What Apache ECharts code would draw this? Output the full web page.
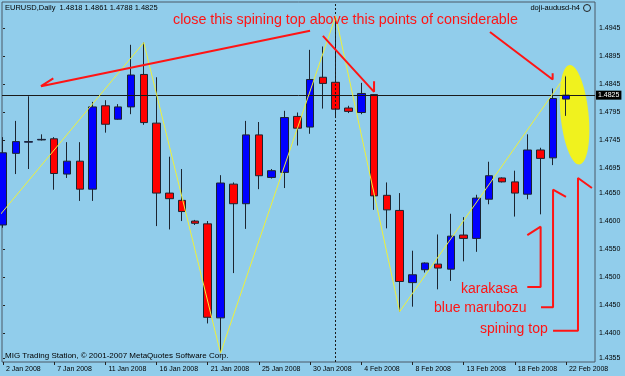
<!DOCTYPE html>
<html>
<head>
<meta charset="utf-8">
<script src="https://cdn.jsdelivr.net/npm/echarts@6/dist/echarts.min.js"></script>
<style>
html, body { margin: 0; padding: 0; background: #91cdeb; }
#chart { width: 625px; height: 376px; }
</style>
</head>
<body>
<div id="chart"></div>
<script>
// EURUSD daily, bar 0 = 2 Jan 2008 ... bar 44 = 22 Feb 2008 (MT4 feed incl. sunday bars)
const opens  = [1.4593, 1.4721, 1.4741, 1.4745, 1.4747, 1.4684, 1.4707, 1.4657, 1.4806, 1.4782,
                1.4804, 1.4862, 1.4775, 1.4650, 1.4637, 1.4600, 1.4595, 1.4427, 1.4666, 1.4631,
                1.4754, 1.4678, 1.4687, 1.4787, 1.4768, 1.4857, 1.4848, 1.4802, 1.4794, 1.4826,
                1.4646, 1.4619, 1.4490, 1.4513, 1.4523, 1.4514, 1.4575, 1.4569, 1.4639, 1.4677,
                1.4670, 1.4648, 1.4727, 1.4713, 1.4818];
const closes = [1.4722, 1.4742, 1.4742, 1.4746, 1.4685, 1.4707, 1.4657, 1.4804, 1.4773, 1.4804,
                1.4861, 1.4776, 1.4650, 1.4640, 1.4617, 1.4596, 1.4428, 1.4668, 1.4631, 1.4754,
                1.4681, 1.4690, 1.4785, 1.4766, 1.4853, 1.4846, 1.4800, 1.4796, 1.4828, 1.4645,
                1.4620, 1.4492, 1.4504, 1.4525, 1.4516, 1.4573, 1.4569, 1.4641, 1.4681, 1.4670,
                1.4650, 1.4727, 1.4712, 1.4819, 1.4825];
const lows   = [1.4588, 1.4684, 1.4693, 1.4744, 1.4656, 1.4677, 1.4636, 1.4636, 1.4758, 1.4781,
                1.4791, 1.4772, 1.4591, 1.4585, 1.4600, 1.4593, 1.4417, 1.4364, 1.4507, 1.4586,
                1.4657, 1.4676, 1.4659, 1.4735, 1.4756, 1.4801, 1.4784, 1.4793, 1.4791, 1.4620,
                1.4587, 1.4438, 1.4447, 1.4508, 1.4478, 1.4493, 1.4528, 1.4545, 1.4630, 1.4669,
                1.4608, 1.4639, 1.4612, 1.4700, 1.4788];
const highs  = [1.4750, 1.4779, 1.4823, 1.4755, 1.4750, 1.4741, 1.4741, 1.4813, 1.4816, 1.4809,
                1.4915, 1.4919, 1.4857, 1.4715, 1.4693, 1.4602, 1.4600, 1.4682, 1.4669, 1.4779,
                1.4777, 1.4693, 1.4797, 1.4794, 1.4906, 1.4912, 1.4966, 1.4806, 1.4847, 1.4827,
                1.4669, 1.4650, 1.4547, 1.4526, 1.4576, 1.4613, 1.4607, 1.4647, 1.4706, 1.4678,
                1.4690, 1.4755, 1.4731, 1.4837, 1.4861];

const dateTicks  = [0, 4, 8, 12, 16, 20, 24, 28, 32, 36, 40, 44];
const dateLabels = ['2 Jan 2008', '7 Jan 2008', '11 Jan 2008', '16 Jan 2008', '21 Jan 2008', '25 Jan 2008',
                    '30 Jan 2008', '4 Feb 2008', '8 Feb 2008', '13 Feb 2008', '18 Feb 2008', '22 Feb 2008'];
const priceTicks = [1.4945, 1.4895, 1.4845, 1.4795, 1.4745, 1.4695, 1.4650, 1.4600,
                    1.4550, 1.4500, 1.4450, 1.4400, 1.4355];

const lastPrice = 1.4825;
const separatorBar = 26;

// zigzag pivots [bar, price]
const zigzag = [[-1, 1.4590], [11, 1.4919], [17, 1.4364], [26, 1.4966], [31, 1.4438], [44, 1.4861]];

// hand drawn annotations, [bar, price]
const arrowLeft  = [[24.0, 1.4940], [2.97, 1.4841], [3.93, 1.4855]];
const arrowMid   = [[25.0, 1.4931], [29.0, 1.4831], [29.0, 1.4850]];
const arrowRight = [[38.06, 1.4938], [42.96, 1.4853], [42.96, 1.4864]];
const brKarakasa = [[40.98, 1.4482], [42.02, 1.4482], [42.02, 1.4590], [40.98, 1.4575]];
const brMarubozu = [[42.05, 1.4446], [42.99, 1.4446], [42.99, 1.4656], [44.0, 1.4643]];
const brSpinTop  = [[42.99, 1.4404], [44.94, 1.4404], [44.94, 1.4677], [46.03, 1.4659]];
const ellipseCenter = [44.67, 1.4790];

const candles = opens.map((o, i) => [i, o, closes[i], lows[i], highs[i]]);

const RED = '#ff1414';
const FONT = '"Liberation Sans", Arial, sans-serif';

function redLine(data) {
  return {
    type: 'line', data: data, showSymbol: false, symbol: 'none', z: 6,
    lineStyle: { color: RED, width: 2 }, silent: true, clip: false
  };
}

const option = {
  animation: false,
  backgroundColor: '#91cdeb',
  grid: {
    left: 2, right: 30, top: 2, bottom: 14,
    show: true, borderColor: '#4a5866', borderWidth: 1
  },
  xAxis: {
    type: 'value', min: -0.08, max: 46.27,
    axisLine: { show: false },
    splitLine: { show: false },
    axisTick: { show: true, length: 3, customValues: dateTicks, lineStyle: { color: '#222' } },
    axisLabel: {
      customValues: dateTicks, align: 'left', margin: 4, padding: [0, 0, 0, 3],
      fontFamily: FONT, fontSize: 7, color: '#000',
      formatter: v => dateLabels[dateTicks.indexOf(v)] || ''
    }
  },
  yAxis: {
    type: 'value', position: 'right', min: 1.43481, max: 1.49915,
    axisLine: { show: false },
    splitLine: { show: false },
    axisTick: { show: true, length: 2, customValues: priceTicks, lineStyle: { color: '#222' } },
    axisLabel: {
      customValues: priceTicks, margin: 4,
      fontFamily: FONT, fontSize: 7, color: '#000',
      formatter: v => v.toFixed(4)
    }
  },
  series: [
    {
      type: 'candlestick', data: candles, barWidth: 8, z: 3,
      itemStyle: {
        color: '#0000ff', color0: '#ff0000',
        borderColor: '#1c2430', borderColor0: '#1c2430', borderWidth: 1
      }
    },
    {
      type: 'line', data: zigzag, showSymbol: false, symbol: 'none', z: 5, silent: true,
      lineStyle: { color: '#eef03a', width: 1 },
      markLine: {
        silent: true, symbol: ['none', 'none'], animation: false, precision: 4,
        data: [
          {
            yAxis: lastPrice,
            lineStyle: { color: '#1a1a1a', width: 1, type: 'solid' },
            label: {
              show: true, position: 'end', distance: 1,
              formatter: lastPrice.toFixed(4),
              backgroundColor: '#000', color: '#fff', padding: [1, 2, 1, 2],
              fontFamily: FONT, fontSize: 7
            }
          },
          {
            xAxis: separatorBar,
            lineStyle: { color: '#1a1a1a', width: 1, type: [2, 2] },
            label: { show: false }
          }
        ]
      }
    },
    redLine(arrowLeft),
    redLine(arrowMid),
    redLine(arrowRight),
    redLine(brKarakasa),
    redLine(brMarubozu),
    redLine(brSpinTop)
  ]
};

const chart = echarts.init(document.getElementById('chart'));
chart.setOption(option);

const ec = chart.convertToPixel({ gridIndex: 0 }, ellipseCenter);

function label(x, y, text, size, color, align) {
  return {
    type: 'text', x: x, y: y, z: 10, silent: true,
    style: { text: text, fill: color, font: size + 'px ' + FONT, verticalAlign: 'middle', align: align || 'left' }
  };
}

chart.setOption({
  graphic: [
    {
      type: 'ellipse', x: ec[0], y: ec[1], rotation: 0.1, z: 1, silent: true,
      shape: { cx: 0, cy: 0, rx: 14, ry: 50 },
      style: { fill: '#f0f21e' }
    },
    label(5, 8, 'EURUSD,Daily  1.4818 1.4861 1.4788 1.4825', 7.5, '#000'),
    label(580, 8, 'doji-audusd-h4', 7.5, '#000', 'right'),
    {
      type: 'circle', x: 587, y: 8, z: 10, silent: true,
      shape: { r: 3.5 }, style: { fill: 'none', stroke: '#222', lineWidth: 1 }
    },
    label(5, 356, 'MIG Trading Station, \u00a9 2001-2007 MetaQuotes Software Corp.', 8, '#000'),
    label(173, 20, 'close this spining top above this points of considerable', 14.3, RED),
    label(461, 289.5, 'karakasa', 14, RED),
    label(434, 308.4, 'blue marubozu', 14, RED),
    label(480, 329, 'spining top', 14, RED)
  ]
});
</script>
</body>
</html>
